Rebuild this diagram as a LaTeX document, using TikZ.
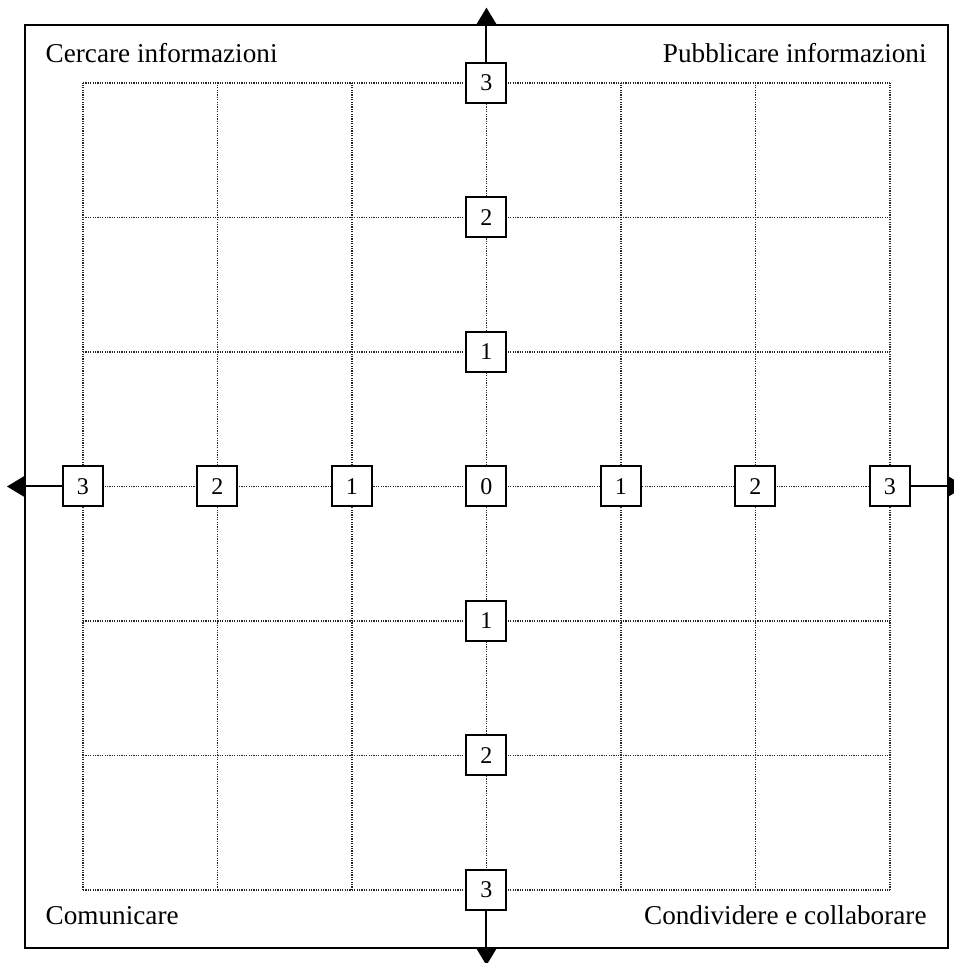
\documentclass[tikz,border=0pt]{standalone}
\usepackage{fontspec}
\setmainfont{Liberation Serif}
\usetikzlibrary{arrows.meta}
\tikzset{
  frame/.style={draw, line width=1pt},
  gridline/.style={line width=0.6pt, black!85, dash pattern=on 0.6pt off 0.6pt},
  valbox/.style={draw, line width=1pt, fill=white, minimum size=20pt,
                 inner sep=0pt, font=\fontsize{12}{14}\selectfont},
  axis/.style={-{Triangle[length=8.5pt, width=10pt]}, line width=1pt},
  corner/.style={font=\fontsize{13.6}{16}\selectfont, inner sep=0pt},
}
\begin{document}
\begin{tikzpicture}[x=67.25pt, y=67.25pt]
    \useasboundingbox (-3.617,-3.543) rectangle (3.476,3.617);
    % outer frame and dotted grid
    \draw[frame] (-3.43,-3.43) rectangle (3.43,3.43);
    \foreach \k in {-3,...,3} {
      \draw[gridline] (\k,-3) -- (\k,3);
      \draw[gridline] (-3,\k) -- (3,\k);
    }
    % quadrant labels
    \node[corner, anchor=base west] (ci) at (-3.28,3.15) {Cercare informazioni};
    \node[corner, anchor=base east] (pi) at (3.275,3.15) {Pubblicare informazioni};
    \node[corner, anchor=base west] (co) at (-3.28,-3.26) {Comunicare};
    \node[corner, anchor=base east] (cc) at (3.275,-3.26) {Condividere e collaborare};
    % value boxes
    \foreach \x/\l in {-3/3, -2/2, -1/1, 0/0, 1/1, 2/2, 3/3}
      \node[valbox] (h\x) at (\x,0) {\l};
    \foreach \y/\l in {-3/3, -2/2, -1/1, 1/1, 2/2, 3/3}
      \node[valbox] (v\y) at (0,\y) {\l};
    % axis arrows
    \coordinate (tipN) at (0,3.56);
    \coordinate (tipS) at (0,-3.56);
    \coordinate (tipW) at (-3.565,0);
    \coordinate (tipE) at (3.56,0);
    \draw[axis] (v3) -- (tipN);
    \draw[axis] (v-3) -- (tipS);
    \draw[axis] (h-3) -- (tipW);
    \draw[axis] (h3) -- (tipE);
  \end{tikzpicture}
\end{document}
